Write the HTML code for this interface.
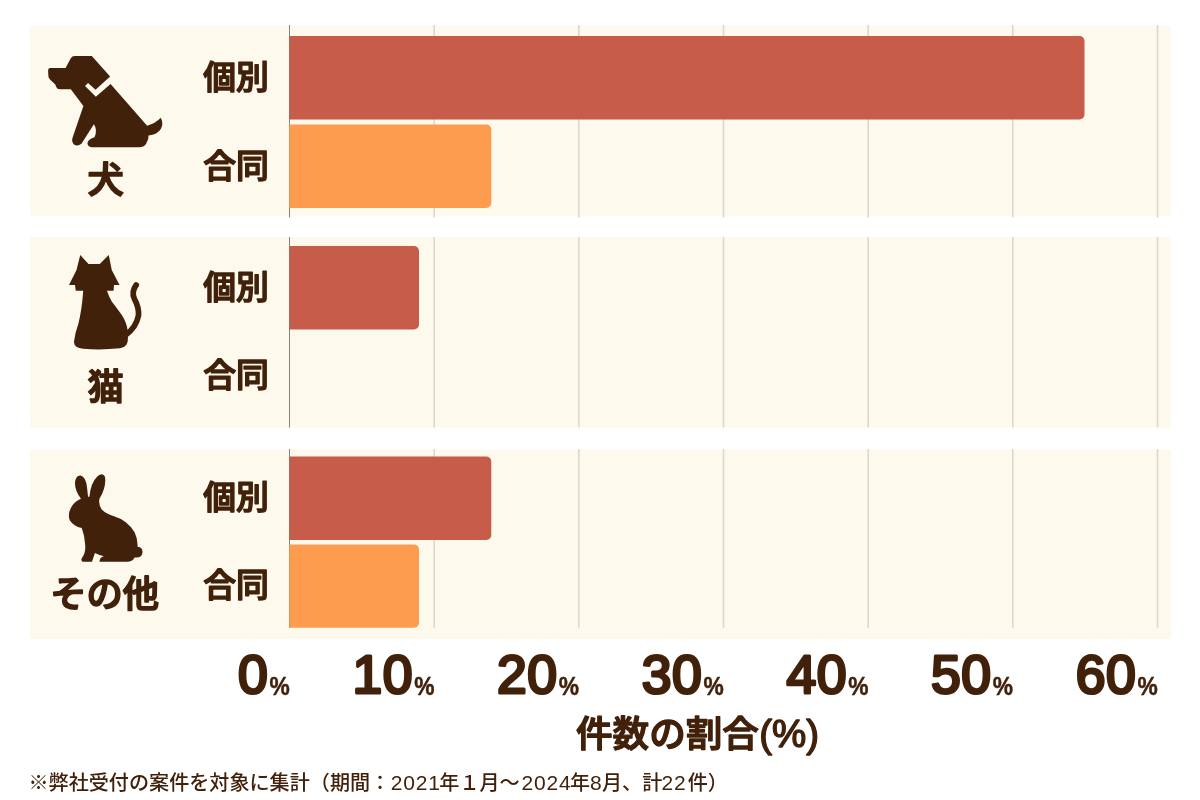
<!DOCTYPE html>
<html lang="ja">
<head>
<meta charset="utf-8">
<title>件数の割合</title>
<style>
html,body{margin:0;padding:0;background:#fff;}
body{width:1200px;height:800px;overflow:hidden;position:relative;}
svg{position:absolute;left:0;top:0;display:block;}
text{font-family:"Liberation Sans","Noto Sans CJK JP",sans-serif;fill:#42210b;}
.lab{font-weight:500;font-size:32.8px;text-anchor:middle;stroke:#42210b;stroke-width:1.5px;stroke-linejoin:round;stroke-linecap:round;}
.cat{font-weight:500;font-size:36.3px;text-anchor:middle;stroke:#42210b;stroke-width:1.7px;stroke-linejoin:round;stroke-linecap:round;}
.num{font-weight:400;font-size:53.5px;text-anchor:end;letter-spacing:0.6px;stroke:#42210b;stroke-width:3px;stroke-linejoin:round;}
.pct{font-weight:700;font-size:26.5px;text-anchor:end;stroke:#42210b;stroke-width:0.5px;}
.ttl{font-weight:500;font-size:36.6px;stroke:#42210b;stroke-width:1.4px;stroke-linejoin:round;}
.par{font-size:38.5px;}
.note{font-weight:500;font-size:20.1px;}
.note .d{font-size:21px;letter-spacing:0.8px;}
</style>
</head>
<body>
<svg width="1200" height="800" viewBox="0 0 1200 800">
<!-- panels -->
<g fill="#fdf9ed">
<rect x="30" y="26" width="1141" height="190" rx="2"/>
<rect x="30" y="237.3" width="1141" height="190.1" rx="2"/>
<rect x="30" y="449.6" width="1141" height="189.4" rx="2"/>
</g>
<!-- gridlines -->
<g stroke="#dbd7cd" stroke-width="1.6">
<path d="M434.2 25V217.5M434.2 237V427.6M434.2 449V627.8"/>
<path d="M578.8 25V217.5M578.8 237V427.6M578.8 449V627.8"/>
<path d="M723.5 25V217.5M723.5 237V427.6M723.5 449V627.8"/>
<path d="M868.2 25V217.5M868.2 237V427.6M868.2 449V627.8"/>
<path d="M1012.8 25V217.5M1012.8 237V427.6M1012.8 449V627.8"/>
<path d="M1157.5 25V217.5M1157.5 237V427.6M1157.5 449V627.8"/>
</g>
<path d="M289.5 25V217.5M289.5 237V427.6M289.5 449V627.8" stroke="#85847c" stroke-width="1"/>
<!-- bars -->
<g fill="#c75c4b">
<path d="M289.3 36H1079.5a5 5 0 0 1 5 5V114.5a5 5 0 0 1-5 5H289.3z"/>
<path d="M289.3 246H414.0a5 5 0 0 1 5 5V324.5a5 5 0 0 1-5 5H289.3z"/>
<path d="M289.3 456.5H486.3a5 5 0 0 1 5 5V535a5 5 0 0 1-5 5H289.3z"/>
</g>
<g fill="#fd9b4e">
<path d="M289.3 124.5H486.3a5 5 0 0 1 5 5V203a5 5 0 0 1-5 5H289.3z"/>
<path d="M289.3 544.5H414.0a5 5 0 0 1 5 5V622.8a5 5 0 0 1-5 5H289.3z"/>
</g>
<!-- labels -->
<text class="lab" x="236" y="89">個別</text>
<text class="lab" x="236" y="178">合同</text>
<text class="lab" x="236" y="298.5">個別</text>
<text class="lab" x="236" y="386.8">合同</text>
<text class="lab" x="236" y="508.8">個別</text>
<text class="lab" x="236" y="596.7">合同</text>
<text class="cat" x="105.6" y="192.5">犬</text>
<text class="cat" x="105.6" y="400">猫</text>
<text class="cat" x="104.6" y="607.3" style="font-size:36.3px">その他</text>
<!-- axis numbers -->
<text class="num" x="268.4" y="693">0</text><text class="pct" transform="translate(289.8 694.6) scale(0.86 1)">%</text>
<text class="num" x="413.1" y="693">10</text><text class="pct" transform="translate(434.5 694.6) scale(0.86 1)">%</text>
<text class="num" x="557.7" y="693">20</text><text class="pct" transform="translate(579.1 694.6) scale(0.86 1)">%</text>
<text class="num" x="702.4" y="693">30</text><text class="pct" transform="translate(723.8 694.6) scale(0.86 1)">%</text>
<text class="num" x="847.1" y="693">40</text><text class="pct" transform="translate(868.5 694.6) scale(0.86 1)">%</text>
<text class="num" x="991.7" y="693">50</text><text class="pct" transform="translate(1013.1 694.6) scale(0.86 1)">%</text>
<text class="num" x="1136.4" y="693">60</text><text class="pct" transform="translate(1157.8 694.6) scale(0.86 1)">%</text>
<text class="ttl" x="576" y="746.6">件数の割合<tspan class="par" x="759.2">(%)</tspan></text>
<text class="note" y="790"><tspan x="28.5">※弊社受付の案件を対象に集計（期間：</tspan><tspan class="d" x="390.8">2021</tspan><tspan x="439.3">年１月～</tspan><tspan class="d" x="521.6">2024</tspan><tspan x="570.1">年</tspan><tspan class="d" x="589.9">8</tspan><tspan x="602">月、計</tspan><tspan class="d" x="661.6">22</tspan><tspan x="687.7">件）</tspan></text>
<!-- icons -->
<g fill="#42210b">
<!-- dog -->
<g transform="translate(30 40) scale(0.15)">
<path d="M135 186H237L272 122Q281 106 298 106H412L534 244L437 332L387 287L367 307L439 379L537 294L781 571Q835 558 872 519Q892 560 872 593Q850 630 790 636Q790 660 783 672Q770 715 731 715H412Q383 712 383 685Q390 660 430 648Q452 600 426 562L343 691Q320 710 295 698Q275 680 283 654L356 440L272 329H200Q180 329 174 312Q172 295 160 288Q135 270 124 250Q120 220 121 200Q121 186 135 186Z"/>
</g>
<!-- cat -->
<g transform="translate(30 240) scale(0.15)">
<path d="M335 100L390 160H465L525 100L545 200L597 300H560L557 338H513Q525 375 545 410Q580 455 612 500Q642 545 650 597L653 655Q655 715 600 722Q470 735 355 725Q295 720 293 680Q300 620 322 560Q345 470 355 338H305L300 300H260L310 200Z"/>
<path d="M640 632Q708 580 723 505Q728 450 696 392Q674 345 708 300" fill="none" stroke="#42210b" stroke-width="38" stroke-linecap="round"/>
</g>
<!-- rabbit -->
<g transform="translate(30 455) scale(0.15)">
<path d="M340 292Q298 235 300 185Q305 135 337 137Q372 145 380 215L387 279L396 279Q405 185 450 142Q485 112 500 145Q510 215 463 292Q455 335 480 365Q510 395 560 408Q650 435 697 515Q720 560 717 612Q752 615 750 650Q745 690 698 683Q680 712 650 712H463Q465 680 492 675Q455 668 433 654L413 712H350Q335 700 350 680Q372 650 368 600Q365 540 345 487Q290 475 265 435Q248 390 280 340Q305 305 340 292Z"/>
</g>

</g>
</svg>
</body>
</html>
